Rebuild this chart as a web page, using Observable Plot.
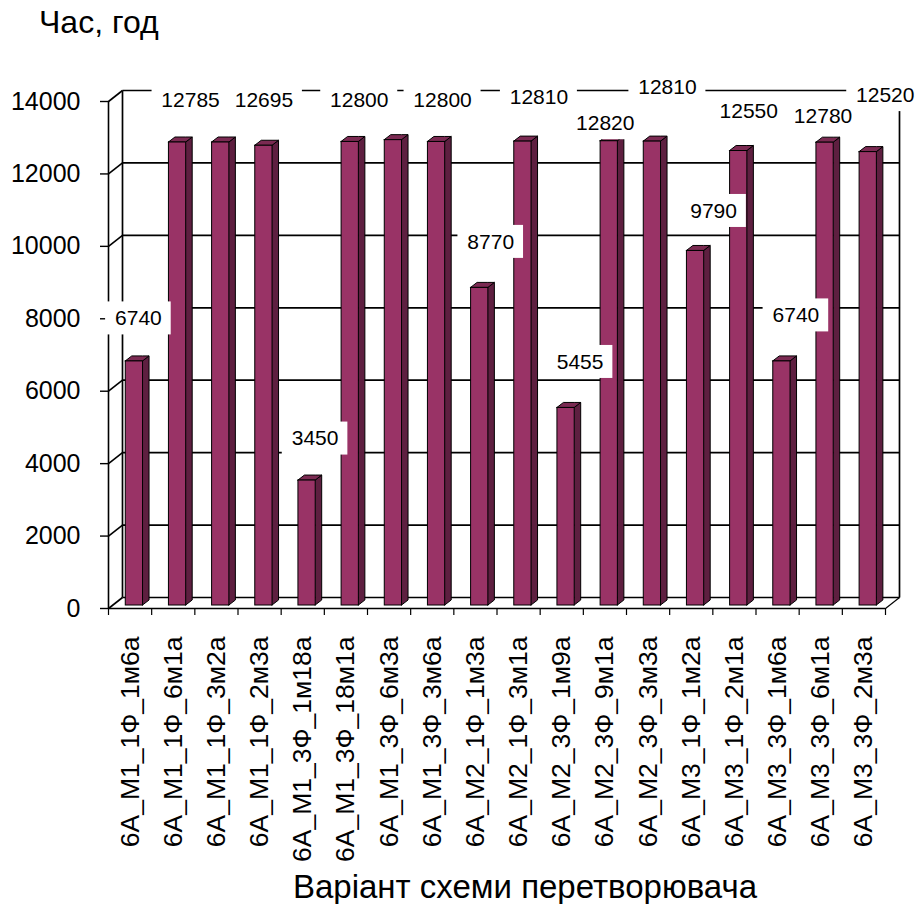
<!DOCTYPE html>
<html>
<head>
<meta charset="utf-8">
<script src="https://cdn.jsdelivr.net/npm/d3@7"></script>
<script src="https://cdn.jsdelivr.net/npm/@observablehq/plot@0.6"></script>
<style>
  html, body { margin: 0; padding: 0; background: #fff; width: 916px; height: 904px; overflow: hidden; position: relative; font-family: "Liberation Sans", Arial, sans-serif; }
  #title { position: absolute; left: 39px; top: 4px; font-size: 32px; color: #000; white-space: nowrap; }
  #chart { position: absolute; left: 0; top: 45px; }
  #xtitle { position: absolute; left: 525px; top: 868px; transform: translateX(-50%); font-size: 33px; color: #000; white-space: nowrap; line-height: 1.15; }
</style>
</head>
<body>
<div id="title">Час, год</div>
<div id="chart"></div>
<div id="xtitle">Варіант схеми перетворювача</div>
<script>
// ---- data ----
const categories = [
  "6А_М1_1Ф_1м6а", "6А_М1_1Ф_6м1а", "6А_М1_1Ф_3м2а", "6А_М1_1Ф_2м3а",
  "6А_М1_3Ф_1м18а", "6А_М1_3Ф_18м1а", "6А_М1_3Ф_6м3а", "6А_М1_3Ф_3м6а",
  "6А_М2_1Ф_1м3а", "6А_М2_1Ф_3м1а", "6А_М2_3Ф_1м9а", "6А_М2_3Ф_9м1а",
  "6А_М2_3Ф_3м3а", "6А_М3_1Ф_1м2а", "6А_М3_1Ф_2м1а", "6А_М3_3Ф_1м6а",
  "6А_М3_3Ф_6м1а", "6А_М3_3Ф_2м3а"
];
const hours = [6740, 12785, 12785, 12695, 3450, 12800, 12850, 12800, 8770,
               12810, 5455, 12820, 12810, 9790, 12550, 6740, 12780, 12520];
const valueLabels = ["6740", "12785", "", "12695", "3450", "12800", "", "12800", "8770",
                     "12810", "5455", "12820", "12810", "9790", "12550", "6740", "12780", "12520"];
const yTicks = [0, 2000, 4000, 6000, 8000, 10000, 12000, 14000];

// ---- layout / 3D geometry ----
const W = 916, H = 819;
const mL = 108, mR = 31, mT = 56, mB = 256;
const yMax = 14000, n = categories.length;
const pxX = (W - mL - mR) / n;          // px per x unit
const pxY = (H - mT - mB) / yMax;       // px per y unit
const ux = px => px / pxX, uy = px => px / pxY;

const wallDX = ux(14), wallDY = uy(11);  // back wall offset
const barDX = ux(6.5), barDY = uy(5);    // bar depth
const barBase = uy(3);                    // bar front plane lift
const barL = 0.40, barR = 0.80;          // bar front face within band

// data-label placement (px): common offset from bar top plus per-label nudges (Excel's placement)
const labelDX = 12, labelDY = -42;
const labelNudge = [[-8, -1], [1, 0], [0, 0], [-12, -3], [-4, 0], [-3, 0], [0, 0], [-6, 0], [-1, -4],
                    [4, -2], [2, -4], [-16, 24], [3, -12], [6, 2], [-2, 2], [2, -4], [-14, 16], [5, -15]];
const labelFont = 21, charW = 11.4, boxPadX = 10, boxH = 33;

const bars = hours.map((v, i) => {
  const cx = i + 0.6 + ux(labelDX + labelNudge[i][0]);
  const cy = v + barBase + uy(-(labelDY + labelNudge[i][1]));
  const halfW = ux((valueLabels[i].length * charW) / 2 + boxPadX);
  return {i, v, cat: categories[i], label: valueLabels[i],
    xl: i + barL, xr: i + barR, y0: barBase, y1: v + barBase,
    cx, cy, bx1: cx - halfW, bx2: cx + halfW, by1: cy - uy(boxH / 2), by2: cy + uy(boxH / 2)};
});

const sideFaces = bars.flatMap(b => [
  {z: b.i, x: b.xr, lo: b.y0, hi: b.y1},
  {z: b.i, x: b.xr + barDX, lo: b.y0 + barDY, hi: b.y1 + barDY}
]);
const topFaces = bars.flatMap(b => [
  {z: b.i, x: b.xl, lo: b.y1, hi: b.y1},
  {z: b.i, x: b.xl + barDX, lo: b.y1, hi: b.y1 + barDY},
  {z: b.i, x: b.xr, lo: b.y1, hi: b.y1 + barDY},
  {z: b.i, x: b.xr + barDX, lo: b.y1 + barDY, hi: b.y1 + barDY}
]);
const labelled = bars.filter(b => b.label);

const font = "'Liberation Sans', Arial, sans-serif";

const chart = Plot.plot({
  width: W, height: H,
  marginLeft: mL, marginRight: mR, marginTop: mT, marginBottom: mB,
  style: {fontFamily: font, background: "white", overflow: "visible"},
  x: {type: "linear", domain: [0, n], label: null},
  y: {domain: [0, yMax], label: null},
  marks: [
    // back wall gridlines
    Plot.link(yTicks, {x1: wallDX, x2: n + wallDX, y1: d => d + wallDY, y2: d => d + wallDY, stroke: "black", strokeWidth: 1.7}),
    // back wall verticals
    Plot.link([0, n], {x1: d => d + wallDX, x2: d => d + wallDX, y1: wallDY, y2: yMax + wallDY, stroke: "black", strokeWidth: 1.7}),
    // left wall diagonals
    Plot.link(yTicks, {x1: 0, x2: wallDX, y1: d => d, y2: d => d + wallDY, stroke: "black", strokeWidth: 1.6}),
    // right floor diagonal
    Plot.link([n], {x1: d => d, x2: d => d + wallDX, y1: 0, y2: wallDY, stroke: "black", strokeWidth: 1.2}),
    // front floor & front left axis line
    Plot.ruleY([0], {x1: 0, x2: n, stroke: "black", strokeWidth: 1.6}),
    Plot.ruleX([0], {y1: 0, y2: yMax, stroke: "black", strokeWidth: 1.6}),
    // bars: side, top, front
    Plot.areaY(sideFaces, {x: "x", y1: "lo", y2: "hi", z: "z", fill: "#5e1f40", stroke: "black", strokeWidth: 1, curve: "linear"}),
    Plot.areaY(topFaces, {x: "x", y1: "lo", y2: "hi", z: "z", fill: "#7b2a52", stroke: "black", strokeWidth: 1, curve: "linear"}),
    Plot.rect(bars, {x1: "xl", x2: "xr", y1: "y0", y2: "y1", fill: "#993366", stroke: "black", strokeWidth: 1}),
    // axes
    Plot.axisY(yTicks, {anchor: "left", tickSize: 8, tickPadding: 20, fontSize: 25, tickFormat: d => String(d), stroke: "black", strokeWidth: 1.4}),
    Plot.axisX(d3.range(n + 1), {anchor: "bottom", tickSize: 7, tickFormat: () => "", stroke: "black", strokeWidth: 1.2}),
    Plot.axisX(d3.range(n).map(i => i + 0.5), {anchor: "bottom", tickSize: 0, tickPadding: 28, tickRotate: -90, fontSize: 26.5, tickFormat: d => categories[Math.floor(d)]}),
    // data labels in white boxes
    Plot.rect(labelled, {x1: "bx1", x2: "bx2", y1: "by1", y2: "by2", fill: "white"}),
    Plot.text(labelled, {x: "cx", y: "cy", text: "label", fontSize: labelFont, fill: "black"})
  ]
});
document.getElementById("chart").appendChild(chart);
</script>
</body>
</html>
